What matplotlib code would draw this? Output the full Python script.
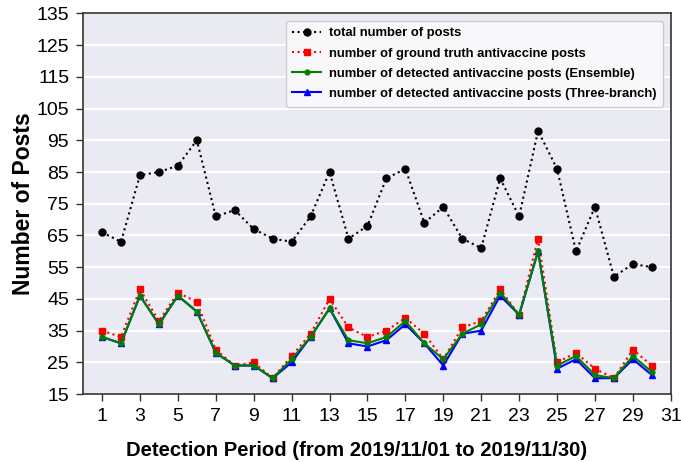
import matplotlib

matplotlib.use("Agg")
import matplotlib.pyplot as plt

# detection period (days of November 2019)
days = list(range(1, 31))

total_posts = [66, 63, 84, 85, 87, 95, 71, 73, 67, 64,
               63, 71, 85, 64, 68, 83, 86, 69, 74, 64,
               61, 83, 71, 98, 86, 60, 74, 52, 56, 55]
ground_truth = [35, 33, 48, 38, 47, 44, 29, 24, 25, 20,
                27, 34, 45, 36, 33, 35, 39, 34, 26, 36,
                38, 48, 40, 64, 25, 28, 23, 20, 29, 24]
ensemble = [33, 31, 46, 37, 46, 41, 28, 24, 24, 20,
            26, 33, 42, 32, 31, 33, 38, 31, 26, 34,
            37, 47, 40, 60, 24, 27, 21, 20, 27, 22]
three_branch = [33, 31, 46, 37, 46, 41, 28, 24, 24, 20,
                25, 33, 42, 31, 30, 32, 37, 31, 24, 34,
                35, 46, 40, 60, 23, 26, 20, 20, 26, 21]

x_ticks = list(range(1, 32, 2))
y_ticks = list(range(15, 136, 10))

plt.rcParams["font.family"] = ["Liberation Sans", "DejaVu Sans"]

fig = plt.figure(figsize=(6.81, 4.62), dpi=100, facecolor="white")
ax = fig.add_axes([0.122, 0.147, 0.863, 0.824])
ax.set_facecolor("#eaeaf2")

ax.plot(days, total_posts, color="black", linestyle=":", linewidth=1.5,
        marker="o", markersize=5, label="total number of posts")
ax.plot(days, ground_truth, color="red", linestyle=":", linewidth=1.5,
        marker="s", markersize=5, label="number of ground truth antivaccine posts")
ax.plot(days, three_branch, color="blue", linestyle="-", linewidth=1.5,
        marker="^", markersize=5, label="number of detected antivaccine posts (Three-branch)", zorder=3)
ax.plot(days, ensemble, color="green", linestyle="-", linewidth=1.5,
        marker="o", markersize=3.5, label="number of detected antivaccine posts (Ensemble)", zorder=4)

ax.set_xlim(0, 31)
ax.set_ylim(15, 135)
ax.set_xticks(x_ticks)
ax.set_yticks(y_ticks)
ax.tick_params(axis="both", labelsize=14, length=5, width=1, color="#333333", direction="out", pad=5)

ax.yaxis.grid(True, color="white", linewidth=1.5)
ax.xaxis.grid(False)
ax.set_axisbelow(True)

for spine in ax.spines.values():
    spine.set_color("#333333")
    spine.set_linewidth(1.2)

ax.set_xlabel("Detection Period (from 2019/11/01 to 2019/11/30)", fontsize=14.6, fontweight="bold")
ax.xaxis.set_label_coords(0.4645, -0.122)
ax.set_ylabel("Number of Posts", fontsize=16.5, fontweight="bold", labelpad=1)

handles, labels = ax.get_legend_handles_labels()
order = [0, 1, 3, 2]
leg = ax.legend([handles[i] for i in order], [labels[i] for i in order],
                loc="upper right", prop={"weight": "bold", "size": 9.4},
                facecolor="#f8f8fa", edgecolor="#cccccc", framealpha=1, fancybox=True,
                handlelength=2.2, handletextpad=0.6, labelspacing=0.62, borderpad=0.5,
                bbox_to_anchor=(0.998, 0.998))

fig.savefig("out.png", dpi=100, facecolor="white")
